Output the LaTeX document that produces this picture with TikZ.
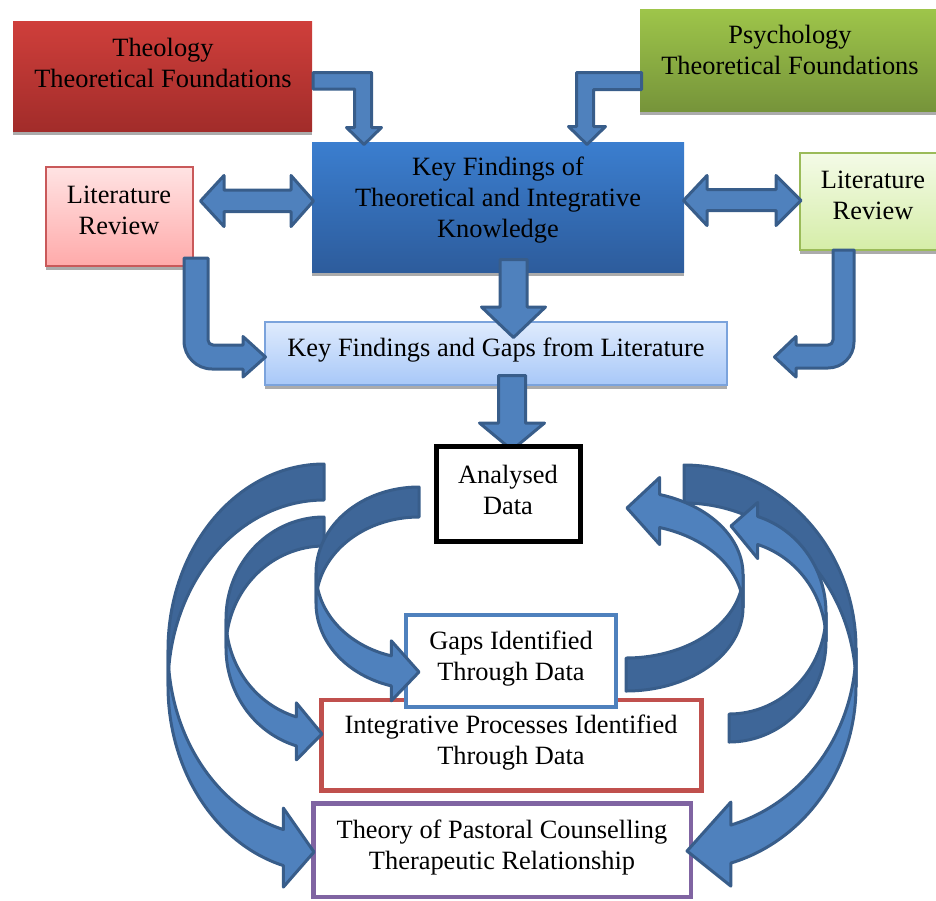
\documentclass[tikz,border=0pt]{standalone}
\usepackage{fontspec}
\setmainfont{Liberation Serif}
\usetikzlibrary{shadows}

\definecolor{theoTop}{HTML}{CF3F3B}
\definecolor{theoBot}{HTML}{A22C2A}
\definecolor{psyTop}{HTML}{9EC54A}
\definecolor{psyBot}{HTML}{76943A}
\definecolor{kfTop}{HTML}{3B7ECF}
\definecolor{kfBot}{HTML}{2D5C9C}
\definecolor{pinkTop}{HTML}{FFE3E3}
\definecolor{pinkBot}{HTML}{FFAAAA}
\definecolor{pinkEdge}{HTML}{C9595A}
\definecolor{limeTop}{HTML}{F4FBE7}
\definecolor{limeBot}{HTML}{D5EDA8}
\definecolor{limeEdge}{HTML}{9BBB59}
\definecolor{skyTop}{HTML}{DFEBFD}
\definecolor{skyBot}{HTML}{A8C8F8}
\definecolor{skyEdge}{HTML}{7BA3DC}
\definecolor{arrowFill}{HTML}{4F81BD}
\definecolor{arrowDark}{HTML}{3E6698}
\definecolor{arrowEdge}{HTML}{385D8A}
\definecolor{edgeBlue}{HTML}{4F81BD}
\definecolor{edgeRed}{HTML}{C0504D}
\definecolor{edgePurple}{HTML}{8064A2}

% curved ribbon arrow built from two vertically offset ellipses
% #1 cx, #2 centre y of the back's outer ellipse, #3 centre y of the other ellipse,
% #4 rx, #5 ry, #6 tail angle, #7 turning angle, #8 angle where the head starts
\newcommand\ribbonarrow[8]{%
  \pgfmathsetmacro\rbxb{#1+#4*cos(#8)}%
  \pgfmathsetmacro\rbpA{#2+#5*sin(#8)}%
  \pgfmathsetmacro\rbpB{#3+#5*sin(#8)}%
  \pgfmathsetmacro\rbsg{(#3>#2)?1:-1}%
  \pgfmathsetmacro\rbcA{\rbpB+(\rbsg)*\rbhead}%
  \pgfmathsetmacro\rbcB{\rbpA-(\rbsg)*\rbhead}%
  \filldraw[ribbonback] plot[domain=#6:#7] ({#1+#4*cos(\x)},{#2+#5*sin(\x)})
     -- plot[domain=#7:#6] ({#1+#4*cos(\x)},{#3+#5*sin(\x)}) -- cycle;
  \filldraw[ribbonfront] plot[domain=#7:#8] ({#1+#4*cos(\x)},{#3+#5*sin(\x)})
     -- (\rbxb,\rbcA) -- (\rbtipx,\rbtipy) -- (\rbxb,\rbcB)
     -- plot[domain=#8:#7] ({#1+#4*cos(\x)},{#2+#5*sin(\x)}) -- cycle;
}

\begin{document}
\begin{tikzpicture}[x=1pt,y=-1pt,
  shadowed/.style={drop shadow={shadow xshift=0pt,shadow yshift=-4pt,fill=black!33,opacity=1}},
  gradbox/.style={rectangle,inner sep=0pt,shadowed},
  framebox/.style={rectangle,inner sep=0pt,draw,line width=4.5pt,fill=white},
  boxtext/.style={align=center,inner sep=0pt,font=\fontsize{26.4}{31}\selectfont},
  blockarrow/.style={fill=arrowFill,draw=arrowEdge,line width=3pt,line join=round},
  ribbonback/.style={fill=arrowDark,draw=arrowEdge,line width=3pt,line join=round,samples=60},
  ribbonfront/.style={fill=arrowFill,draw=arrowEdge,line width=3pt,line join=round,samples=60}]

\useasboundingbox (0,0) rectangle (936,900);

% ---- upper boxes
\node[gradbox,top color=theoTop,bottom color=theoBot,minimum width=299pt,minimum height=110pt] (theo) at (162.5,76) {};
\node[gradbox,top color=psyTop,bottom color=psyBot,minimum width=300pt,minimum height=102pt] (psy) at (790,60) {};
\node[gradbox,top color=pinkTop,bottom color=pinkBot,draw=pinkEdge,line width=1.5pt,minimum width=147pt,minimum height=99pt] (litL) at (119.5,216.5) {};
\node[gradbox,top color=limeTop,bottom color=limeBot,draw=limeEdge,line width=1.5pt,minimum width=146pt,minimum height=97pt] (litR) at (873,201.5) {};
\node[gradbox,top color=kfTop,bottom color=kfBot,minimum width=372pt,minimum height=130pt] (kf) at (498,207) {};
\node[gradbox,top color=skyTop,bottom color=skyBot,draw=skyEdge,line width=1.5pt,minimum width=462pt,minimum height=63pt] (kfg) at (496,353.5) {};

% ---- straight block arrows
% theology -> key findings
\filldraw[blockarrow] (313,72.5) -- (371.5,72.5) -- (371.5,127.5) -- (381.5,127.5) -- (364,144.5)
  -- (346.5,127.5) -- (354.5,127.5) -- (354.5,89) -- (313,89) -- cycle;
% psychology -> key findings
\filldraw[blockarrow] (641.5,72.5) -- (576.5,72.5) -- (576.5,126.5) -- (568.5,126.5) -- (587,144.5)
  -- (605.5,126.5) -- (593.5,126.5) -- (593.5,89.5) -- (641.5,89.5) -- cycle;
% literature review (left) <-> key findings
\filldraw[blockarrow] (200.5,201) -- (224,175.5) -- (224,190) -- (291,190) -- (291,175.5) -- (313.5,201)
  -- (291,226.5) -- (291,211.5) -- (224,211.5) -- (224,226.5) -- cycle;
% key findings <-> literature review (right)
\filldraw[blockarrow] (683.5,200.5) -- (707,175.5) -- (707,189.5) -- (776,189.5) -- (776,175.5) -- (801,200.5)
  -- (776,225.5) -- (776,210.5) -- (707,210.5) -- (707,225.5) -- cycle;
% key findings -> findings and gaps
\filldraw[blockarrow] (500,259.5) -- (527,259.5) -- (527,307) -- (545.5,307) -- (513.5,337.5)
  -- (481.5,307) -- (500,307) -- cycle;
% findings and gaps -> analysed data
\filldraw[blockarrow] (498.5,375.5) -- (525.5,375.5) -- (525.5,423) -- (544.5,423) -- (512,450)
  -- (479.5,423) -- (498.5,423) -- cycle;
% literature review (left) -> findings and gaps
\filldraw[blockarrow] (184,258) -- (208,258) -- (208,340) .. controls (208,342.8) and (210.2,345) .. (213,345)
  -- (243,345) -- (243,336.5) -- (265.5,357) -- (243,377) -- (243,369) -- (212,369)
  .. controls (196.5,369) and (184,356.5) .. (184,341) -- cycle;
% literature review (right) -> findings and gaps
\filldraw[blockarrow] (833,250) -- (854,250) -- (854,342) .. controls (854,356.4) and (842.4,368) .. (828,368)
  -- (796,368) -- (796,377) -- (774.5,357) -- (796,336.5) -- (796,345) -- (828,345)
  .. controls (830.8,345) and (833,342.8) .. (833,340) -- cycle;

% ---- lower boxes
\node[framebox,draw=black,line width=5pt,minimum width=144.5pt,minimum height=94.5pt] (ana) at (508.25,493.75) {};
\node[framebox,draw=edgeRed,minimum width=380pt,minimum height=90.5pt] (integ) at (511.5,745.25) {};
\node[framebox,draw=edgePurple,minimum width=377.5pt,minimum height=93.5pt] (theory) at (502.25,850.25) {};
\node[framebox,draw=edgeBlue,line width=4pt,minimum width=210pt,minimum height=92pt] (gaps) at (511,661) {};

% ---- curved ribbon arrows
\def\rbhead{21.5}\def\rbtipx{314}\def\rbtipy{852}
\ribbonarrow{324}{650}{686}{156}{186}{270}{180}{105.1}
\def\rbhead{23}\def\rbtipx{687}\def\rbtipy{851}
\ribbonarrow{684}{648.5}{686.5}{172}{183.5}{-90}{0}{74.2}
\def\rbhead{14}\def\rbtipx{322}\def\rbtipy{734}
\ribbonarrow{324}{619}{648}{98}{102}{270}{180}{106.4}
\def\rbhead{14}\def\rbtipx{731}\def\rbtipy{526}
\ribbonarrow{729}{641}{613}{97}{101}{90}{0}{-72.8}
\def\rbhead{15}\def\rbtipx{419}\def\rbtipy{672}
\ribbonarrow{419}{573}{603}{103}{86}{270}{180}{105.6}
\def\rbhead{17}\def\rbtipx{627}\def\rbtipy{508}
\ribbonarrow{626}{607.5}{574.5}{117}{83.5}{90}{0}{-73.3}

% ---- texts
\node[boxtext] (theoT) at (163,62.5) {Theology\\Theoretical Foundations};
\node[boxtext] (psyT) at (790,50) {Psychology\\Theoretical Foundations};
\node[boxtext] (litLT) at (119,210.5) {Literature\\Review};
\node[boxtext] (litRT) at (873,195) {Literature\\Review};
\node[boxtext] (kfT) at (498,200.5) {Key Findings of\\Theoretical and Integrative\\Knowledge};
\node[boxtext] (kfgT) at (496,350) {Key Findings and Gaps from Literature};
\node[boxtext] (anaT) at (508,489.5) {Analysed\\Data};
\node[boxtext] (gapsT) at (511,659) {Gaps Identified\\Through Data};
\node[boxtext] (integT) at (511,743) {Integrative Processes Identified\\Through Data};
\node[boxtext] (theoryT) at (502,847.5) {Theory of Pastoral Counselling\\Therapeutic Relationship};
\end{tikzpicture}
\end{document}
